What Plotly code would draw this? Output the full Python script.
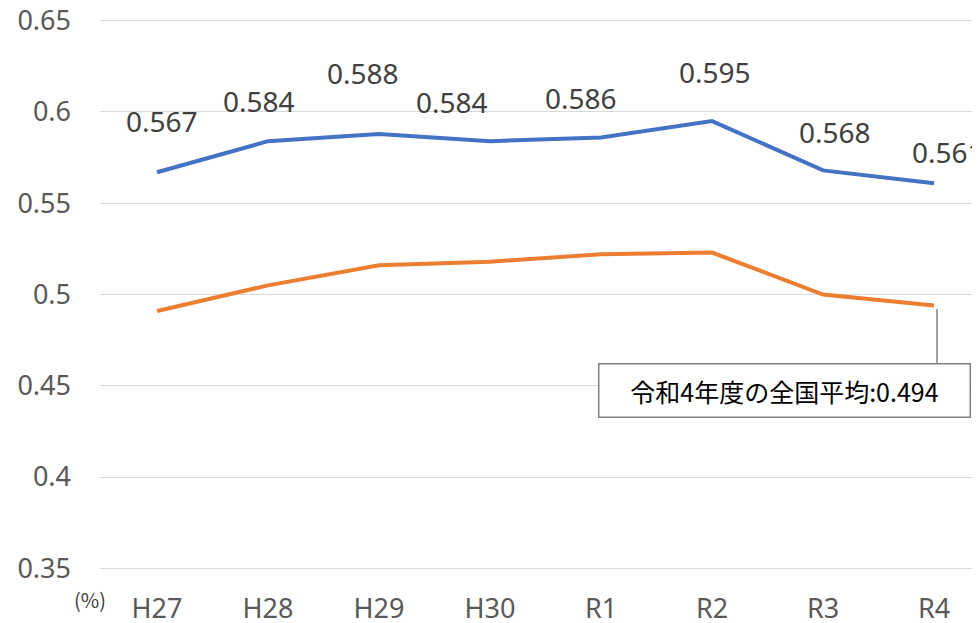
import plotly.graph_objects as go

categories = ["H27", "H28", "H29", "H30", "R1", "R2", "R3", "R4"]
city_values = [0.567, 0.584, 0.588, 0.584, 0.586, 0.595, 0.568, 0.561]
national_values = [0.491, 0.505, 0.516, 0.518, 0.522, 0.523, 0.500, 0.494]
y_tick_vals = [0.35, 0.4, 0.45, 0.5, 0.55, 0.6, 0.65]
y_tick_text = ["0.35", "0.4", "0.45", "0.5", "0.55", "0.6", "0.65"]
callout_text = "令和4年度の全国平均:0.494"
unit_text = "(%)"

# label pixel offsets (style)
label_xshift = [5, -9, -16, -38, -20, 3, 12, 14]
label_yshift = [51, 40, 61, 39, 40, 49, 38, 31]

FONT = "Noto Sans, Liberation Sans, sans-serif"

fig = go.Figure()
fig.add_trace(go.Scatter(x=categories, y=national_values, mode="lines",
                         line=dict(color="#ED7D31", width=4), hoverinfo="skip"))
fig.add_trace(go.Scatter(x=categories, y=city_values, mode="lines",
                         line=dict(color="#4472C4", width=4), hoverinfo="skip"))

for i, (c, v) in enumerate(zip(categories, city_values)):
    fig.add_annotation(x=c, y=v, text=f"{v:.3f}", showarrow=False,
                       xshift=label_xshift[i], yshift=label_yshift[i],
                       font=dict(family=FONT, size=28, color="#404040"))

# leader line for callout
fig.add_shape(type="line", xref="x", yref="y",
              x0=7.027, x1=7.027, y0=national_values[-1] - 0.002, y1=0.4613,
              line=dict(color="#808080", width=1.5))

fig.add_annotation(xref="paper", yref="y", x=0.7778, y=0.4473,
                   xanchor="center", yanchor="middle",
                   text=callout_text, showarrow=False,
                   font=dict(family="Noto Sans CJK JP", size=25, color="#000000"),
                   bordercolor="#808080", borderwidth=1.5, borderpad=8,
                   bgcolor="#FFFFFF", width=354)

fig.add_annotation(xref="paper", yref="paper", x=-0.0114, y=-0.052,
                   xanchor="center", yanchor="middle",
                   text=unit_text, showarrow=False,
                   font=dict(family="Noto Sans CJK JP", size=20, color="#404040"))

fig.update_layout(
    width=972, height=615,
    margin=dict(l=92, r=0, t=10, b=52, autoexpand=False),
    paper_bgcolor="white", plot_bgcolor="white",
    showlegend=False,
    font=dict(family=FONT, color="#595959"),
    xaxis=dict(type="category", range=[-0.514, 7.414], showgrid=False,
               showline=False, zeroline=False, automargin=False,
               ticks="", ticklabelstandoff=19,
               tickfont=dict(family=FONT, size=27, color="#595959")),
    yaxis=dict(range=[0.3485, 0.6515], tickvals=y_tick_vals, ticktext=y_tick_text,
               showgrid=True, gridcolor="#D9D9D9", gridwidth=1,
               zeroline=False, showline=False, ticks="", automargin=False,
               ticklabelstandoff=28, ticklabeloverflow="allow",
               tickfont=dict(family=FONT, size=27, color="#595959")),
)

fig.write_html("out.html")
